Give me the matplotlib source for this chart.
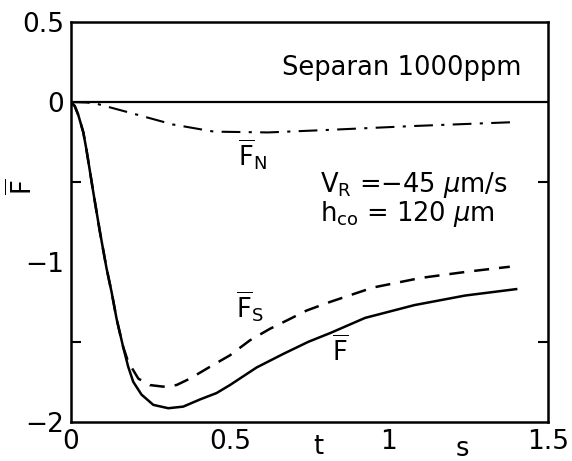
import matplotlib
matplotlib.use("Agg")
import matplotlib.pyplot as plt

plt.rcParams["font.family"] = "DejaVu Sans"
plt.rcParams["mathtext.fontset"] = "dejavusans"

# F total (solid)
t_f = [0, 0.012, 0.023, 0.039, 0.049, 0.07, 0.091, 0.112, 0.128, 0.144, 0.164,
       0.180, 0.196, 0.222, 0.259, 0.306, 0.353, 0.406, 0.458, 0.5, 0.584,
       0.668, 0.746, 0.815, 0.925, 1.08, 1.24, 1.40]
f_tot = [0, -0.025, -0.08, -0.19, -0.30, -0.56, -0.81, -1.04, -1.19, -1.36, -1.53,
         -1.655, -1.75, -1.83, -1.894, -1.915, -1.905, -1.86, -1.82, -1.77,
         -1.66, -1.575, -1.50, -1.445, -1.35, -1.27, -1.21, -1.17]

# F_S (dashed)
t_s = [0, 0.012, 0.023, 0.039, 0.049, 0.07, 0.091, 0.112, 0.128, 0.144, 0.164,
       0.18, 0.212, 0.248, 0.29, 0.332, 0.374, 0.437, 0.5, 0.563, 0.626, 0.689,
       0.741, 0.815, 0.95, 1.10, 1.25, 1.38]
f_s = [0, -0.025, -0.08, -0.19, -0.30, -0.56, -0.81, -1.04, -1.19, -1.36, -1.53,
       -1.625, -1.73, -1.77, -1.78, -1.77, -1.73, -1.656, -1.584, -1.49, -1.418,
       -1.356, -1.304, -1.25, -1.16, -1.10, -1.06, -1.03]

# F_N (dash-dot)
t_n = [0, 0.05, 0.08, 0.21, 0.32, 0.45, 0.62, 0.80, 1.075, 1.40]
f_n = [0, -0.003, -0.01, -0.08, -0.14, -0.185, -0.19, -0.175, -0.15, -0.125]

xticks = [0, 0.5, 1, 1.5]
xlabels = ["0", "0.5", "1", "1.5"]
yticks = [0.5, 0, -1, -2]
ylabels = ["0.5", "0", "\u22121", "\u22122"]
xminor = [0.5, 1]
yminor = [-1.5, -1, -0.5]

fig = plt.figure(figsize=(5.72, 4.61), dpi=100)
ax = fig.add_axes([0.124, 0.085, 0.834, 0.867])

ax.axhline(0, color="black", lw=1.6)
ax.plot(t_f, f_tot, color="black", lw=1.8)
ax.plot(t_s, f_s, color="black", lw=1.8, dashes=(6, 4))
ax.plot(t_n, f_n, color="black", lw=1.5, dashes=(9, 4, 1.5, 4))

ax.set_xlim(0, 1.5)
ax.set_ylim(-2, 0.5)

ax.set_xticks(xticks)
ax.set_xticklabels(xlabels)
ax.set_yticks(yticks)
ax.set_yticklabels(ylabels)
ax.set_xticks(xminor, minor=True)
ax.set_yticks(yminor, minor=True)
ax.tick_params(which="major", length=0, labelsize=19, pad=5)
ax.tick_params(which="minor", direction="in", length=7, width=1.5,
               top=True, right=True)

for sp in ax.spines.values():
    sp.set_linewidth(1.8)

fs = 18.5
ax.text(0.663, 0.21, "Separan 1000ppm", fontsize=fs, va="center")
ax.text(0.783, -0.52, r"$\mathrm{V_R}$ =$-$45 $\mu$m/s", fontsize=fs, va="center")
ax.text(0.783, -0.70, r"$\mathrm{h_{co}}$ = 120 $\mu$m", fontsize=fs, va="center")

ax.text(0.525, -0.33, r"$\overline{\mathrm{F}}_{\mathrm{N}}$", fontsize=fs, va="center")
ax.text(0.52, -1.28, r"$\overline{\mathrm{F}}_{\mathrm{S}}$", fontsize=fs, va="center")
ax.text(0.82, -1.56, r"$\overline{\mathrm{F}}$", fontsize=fs, va="center")

ax.text(0.777, -2.16, "t", fontsize=fs, ha="center", va="center", clip_on=False)
ax.text(1.23, -2.17, "s", fontsize=fs, ha="center", va="center", clip_on=False)

fig.text(22 / 572, 1 - 187 / 461, r"$\overline{\mathrm{F}}$", fontsize=fs,
         rotation=90, ha="center", va="center")

fig.savefig("out.png", dpi=100)
